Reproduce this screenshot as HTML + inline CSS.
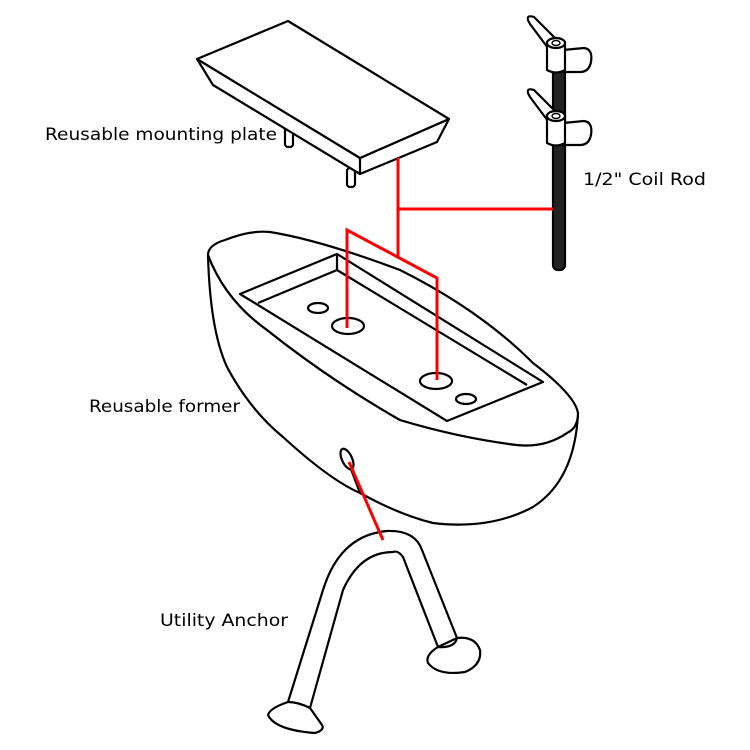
<!DOCTYPE html>
<html><head><meta charset="utf-8"><style>
html,body{margin:0;padding:0;background:#fff;}
svg{display:block;}
text{font-family:"DejaVu Sans","Liberation Sans",sans-serif;font-size:17px;fill:#000;}
</style></head><body>
<svg width="750" height="750" viewBox="0 0 750 750" xmlns="http://www.w3.org/2000/svg">
<g fill="#fff" stroke="#000" stroke-width="2.2" stroke-linejoin="round">
<rect x="285" y="126" width="8" height="21" rx="3"/>
<rect x="347" y="168" width="8" height="19" rx="3"/>
<polygon points="197,59 213,85 360,174 437,142 449,119 360,158"/>
<polygon points="197,59 288,21 449,119 360,158"/>
<line x1="360" y1="158" x2="360" y2="174"/>
<rect x="553" y="60" width="12" height="210" rx="5" fill="#222"/>
<g id="nut">
<path d="M548,48 L530,24 Q524,14 534,17 L557,40 Z"/>
<path d="M563,50 L584,48 Q593,49 591,62 Q589,72 580,72 L563,72 Z"/>
<path d="M547,42 L547,70 Q556,75 565,70 L565,42 Z"/>
<ellipse cx="556" cy="43" rx="9" ry="5"/>
<ellipse cx="556" cy="43" rx="4" ry="2.5" stroke-width="1.4"/>
</g>
<use href="#nut" y="73"/>
<path d="M208,255 Q210,330 227,367 Q250,410 283,437 Q330,480 360,493 Q400,515 433,523 Q490,530 533,507 Q575,480 578,413 L567,433 Q545,448 517,445 Q460,438 400,420 Q330,380 267,330 Q225,300 208,255 Z"/>
<path d="M208,255 Q208,245 225,240 Q250,230 270,232 Q320,240 400,270 Q480,310 533,363 Q575,395 578,413 Q578,428 567,433 Q545,448 517,445 Q460,438 400,420 Q330,380 267,330 Q225,300 208,255 Z"/>
<polygon points="240,294 337,254 543,382 447,421"/>
<polyline points="258,303 337,270 527,385" fill="none"/>
<line x1="337" y1="254" x2="337" y2="270"/>
<ellipse cx="318" cy="308" rx="10" ry="5"/>
<ellipse cx="348" cy="326" rx="16" ry="8"/>
<ellipse cx="436" cy="381" rx="16" ry="8"/>
<ellipse cx="466" cy="399" rx="10" ry="5"/>
<ellipse cx="347" cy="459" rx="5" ry="11" transform="rotate(-25 347 459)"/>
<path d="M351,468 L360,492" fill="none" stroke-width="3"/>
<path d="M288,702 L323,590 Q340,535 387,531 Q415,530 422,550 L457,638 L438,647 L403,557 Q398,550 393,552 Q360,552 343,590 L310,708 Z"/>
<path d="M288,702 Q270,708 268,715 Q275,730 315,733 Q325,730 322,725 L310,708 Q298,702 288,702 Z"/>
<path d="M438,647 Q425,655 428,663 Q438,676 465,672 Q482,665 480,650 Q475,636 457,638 Q455,648 438,647 Z"/>
</g>
<g fill="none" stroke="#f00" stroke-width="3">
<polyline points="398,158 398,257"/>
<polyline points="398,209 553,209"/>
<polyline points="347,328 347,230 437,278 437,380"/>
<line x1="349" y1="462" x2="383" y2="540"/>
</g>
<text x="45" y="140" textLength="232" lengthAdjust="spacingAndGlyphs">Reusable mounting plate</text>
<text x="583" y="185" textLength="123" lengthAdjust="spacingAndGlyphs">1/2" Coil Rod</text>
<text x="89" y="412" textLength="151" lengthAdjust="spacingAndGlyphs">Reusable former</text>
<text x="160" y="626" textLength="128" lengthAdjust="spacingAndGlyphs">Utility Anchor</text>
</svg>
</body></html>
